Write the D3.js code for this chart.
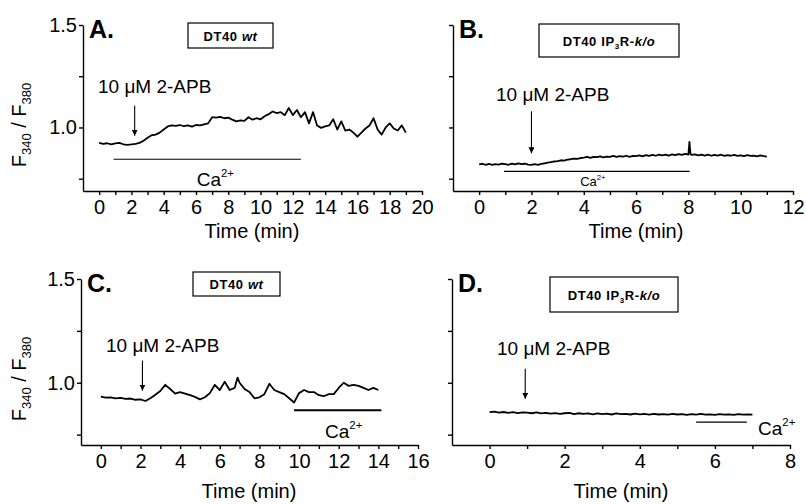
<!DOCTYPE html>
<html>
<head>
<meta charset="utf-8">
<script src="https://cdn.jsdelivr.net/npm/d3@7"></script>
<style>
  body { margin: 0; background: #fff; }
  svg { font-family: "Liberation Sans", Arial, sans-serif; }
  .axis path, .axis line { stroke: #000; stroke-width: 1.4; }
  .axis text { font-size: 20px; fill: #000; }
</style>
</head>
<body>
<svg id="fig" width="806" height="504"></svg>
<script>
// ---- data ----
const tA = [0,0.25,0.5,0.75,1,1.25,1.5,1.75,2,2.25,2.5,2.75,3,3.25,3.5,3.75,4,4.25,4.5,4.75,5,5.25,5.5,5.75,6,6.25,6.5,6.75,7,7.25,7.5,7.75,8,8.25,8.5,8.75,9,9.25,9.5,9.75,10,10.25,10.5,10.75,11,11.25,11.5,11.75,12,12.25,12.5,12.75,13,13.25,13.5,13.75,14,14.25,14.5,14.75,15,15.25,15.5,15.75,16,16.25,16.5,16.75,17,17.25,17.5,17.75,18,18.25,18.5,18.75,19];
const vA = [0.925,0.92,0.923,0.918,0.922,0.925,0.918,0.915,0.917,0.92,0.925,0.935,0.95,0.962,0.965,0.975,0.99,1.005,1.01,1.008,1.012,1.006,1.01,1.004,1.012,1.01,1.015,1.02,1.05,1.048,1.052,1.045,1.048,1.038,1.03,1.035,1.032,1.05,1.038,1.045,1.04,1.055,1.065,1.078,1.07,1.075,1.06,1.095,1.06,1.085,1.05,1.075,1.02,1.075,1.01,0.998,1.005,1.01,1.04,0.99,1.03,0.985,0.99,0.975,0.955,0.975,0.995,1.01,1.045,0.99,0.965,1.0,1.02,0.995,0.985,1.01,0.975];

const tB = [0,0.125,0.25,0.375,0.5,0.625,0.75,0.875,
  1,1.125,1.25,1.375,1.5,1.625,1.75,1.875,
  2,2.125,2.25,2.375,2.5,2.625,2.75,2.875,
  3,3.125,3.25,3.375,3.5,3.625,3.75,3.875,
  4,4.125,4.25,4.375,4.5,4.625,4.75,4.875,
  5,5.125,5.25,5.375,5.5,5.625,5.75,5.875,
  6,6.125,6.25,6.375,6.5,6.625,6.75,6.875,
  7,7.125,7.25,7.375,7.5,7.625,7.75,7.875,
  8,8.04,8.08,8.125,8.25,8.375,8.5,8.625,8.75,8.875,
  9,9.125,9.25,9.375,9.5,9.625,9.75,9.875,
  10,10.125,10.25,10.375,10.5,10.625,10.75,10.875,
  11];
const vB = [0.820,0.823,0.818,0.822,0.817,0.821,0.819,0.823,
  0.821,0.818,0.824,0.820,0.825,0.821,0.823,0.819,
  0.817,0.821,0.818,0.822,0.825,0.828,0.831,0.834,
  0.836,0.840,0.838,0.843,0.845,0.848,0.847,0.851,
  0.853,0.856,0.852,0.857,0.855,0.859,0.854,0.858,
  0.857,0.861,0.856,0.860,0.858,0.862,0.857,0.861,
  0.860,0.864,0.859,0.865,0.861,0.866,0.862,0.867,
  0.864,0.868,0.863,0.869,0.865,0.870,0.866,0.871,
  0.868,0.930,0.870,0.866,0.869,0.864,0.868,0.863,0.867,0.862,
  0.866,0.863,0.867,0.861,0.865,0.862,0.866,0.861,
  0.864,0.860,0.865,0.861,0.863,0.859,0.864,0.860,
  0.858];

const tC = [0,0.25,0.5,0.75,1,1.25,1.5,1.75,2,2.25,2.5,2.75,3,3.25,3.5,3.75,4,4.25,4.5,4.75,5,5.25,5.5,5.75,6,6.25,6.5,6.75,6.9,7,7.25,7.5,7.75,8,8.25,8.5,8.75,9,9.25,9.5,9.75,10,10.25,10.5,10.75,11,11.25,11.5,11.75,12,12.25,12.5,12.75,13,13.25,13.5,13.75,14];
const vC = [0.933,0.928,0.93,0.925,0.927,0.922,0.924,0.918,0.92,0.912,0.925,0.942,0.96,0.99,0.97,0.948,0.955,0.948,0.94,0.932,0.92,0.93,0.95,0.99,0.965,1.005,0.965,0.975,1.025,1.0,0.97,0.955,0.925,0.93,0.945,0.995,0.965,0.955,0.945,0.925,0.905,0.95,0.965,0.955,0.955,0.94,0.935,0.945,0.945,0.975,1.0,0.985,0.99,0.985,0.975,0.965,0.975,0.965];

const tD = [0,0.125,0.25,0.375,0.5,0.625,0.75,0.875,
  1,1.125,1.25,1.375,1.5,1.625,1.75,1.875,
  2,2.125,2.25,2.375,2.5,2.625,2.75,2.875,
  3,3.125,3.25,3.375,3.5,3.625,3.75,3.875,
  4,4.125,4.25,4.375,4.5,4.625,4.75,4.875,
  5,5.125,5.25,5.375,5.5,5.625,5.75,5.875,
  6,6.125,6.25,6.375,6.5,6.625,6.75,6.875,
  7];
const vD = [0.858,0.861,0.856,0.859,0.855,0.858,0.854,0.857,
  0.856,0.853,0.857,0.852,0.855,0.851,0.854,0.850,
  0.853,0.855,0.849,0.853,0.850,0.852,0.848,0.852,
  0.849,0.851,0.847,0.852,0.849,0.850,0.847,0.851,
  0.848,0.850,0.846,0.850,0.847,0.849,0.846,0.850,
  0.847,0.849,0.845,0.849,0.846,0.850,0.846,0.848,
  0.845,0.849,0.846,0.848,0.845,0.849,0.846,0.848,
  0.846];

const xMax = [20, 12, 16, 8];
const yTicks = [0.75, 1.0, 1.25, 1.5];
const yLabels = [1.0, 1.5];
// Ca2+ bars: [start, end] in min
const caBars = [[0.9, 12.5], [0.95, 8.05], [9.75, 14.15], [5.5, 6.85]];
// 2-APB addition time (min)
const apbTime = [2.2, 2.0, 2.1, 0.95];

// ---- layout ----
const panels = [
  { id: "A", t: tA, v: vA, xr: [83, 422], yr: [191, 25], yDom: [0.69, 1.5], yLab: true,
    box: { x: 188, y: 23, w: 85, h: 25, ko: false },
    caY: 0.845, caLab: { t: 7.2, y: 186, size: 19, anchor: "middle" }, caW: 1.2,
    arrow: { tip: 0.96, len: 30 }, apbLab: { x: 98, y: 93 }, xTitleX: 252, xTitleY: 238 },
  { id: "B", t: tB, v: vB, xr: [453, 793], yr: [191, 25], yDom: [0.69, 1.5], yLab: false,
    box: { x: 539, y: 24, w: 140, h: 33, ko: true },
    caY: 0.786, caLab: { t: 4.35, y: 186, size: 13, anchor: "middle" }, caW: 1.2,
    arrow: { tip: 0.874, len: 42 }, apbLab: { x: 496, y: 101 }, xTitleX: 636, xTitleY: 238 },
  { id: "C", t: tC, v: vC, xr: [81, 418], yr: [445, 279], yDom: [0.7, 1.5], yLab: true,
    box: { x: 193, y: 272, w: 87, h: 24, ko: false },
    caY: 0.867, caLab: { t: 12.25, y: 438, size: 19, anchor: "middle" }, caW: 2,
    arrow: { tip: 0.962, len: 30 }, apbLab: { x: 106, y: 352 }, xTitleX: 249, xTitleY: 498 },
  { id: "D", t: tD, v: vD, xr: [452, 790], yr: [445, 279], yDom: [0.7, 1.5], yLab: false,
    box: { x: 550, y: 277, w: 128, h: 35, ko: true },
    caY: 0.81, caLab: { t: 7.15, y: 435, size: 19, anchor: "start" }, caW: 1.2,
    arrow: { tip: 0.923, len: 30 }, apbLab: { x: 497, y: 355 }, xTitleX: 621, xTitleY: 498 }
];

const svg = d3.select("#fig");
const defs = svg.append("defs");
defs.append("marker")
  .attr("id", "arrowhead")
  .attr("viewBox", "0 0 10 10")
  .attr("refX", 10).attr("refY", 5)
  .attr("markerWidth", 6).attr("markerHeight", 6)
  .attr("markerUnits", "userSpaceOnUse")
  .attr("orient", "auto")
  .append("path")
  .attr("d", "M0,0 L10,5 L0,10 Z")
  .attr("fill", "#000");

panels.forEach((p, i) => {
  const x = d3.scaleLinear().domain([-1, xMax[i]]).range(p.xr);
  const y = d3.scaleLinear().domain(p.yDom).range(p.yr);
  const g = svg.append("g").attr("class", "panel-" + p.id);

  // x axis with minor ticks every 1 min, labels every 2
  g.append("g")
    .attr("class", "axis x-axis")
    .attr("transform", `translate(0,${p.yr[0]})`)
    .call(d3.axisBottom(x)
      .tickValues(d3.range(0, xMax[i] + 1))
      .tickSize(4).tickSizeOuter(0).tickPadding(5)
      .tickFormat(d => d % 2 === 0 ? d : ""));

  // y axis
  g.append("g")
    .attr("class", "axis y-axis")
    .attr("transform", `translate(${p.xr[0]},0)`)
    .call(d3.axisLeft(y)
      .tickValues(yTicks)
      .tickSize(4).tickSizeOuter(0).tickPadding(2)
      .tickFormat(d => p.yLab && yLabels.includes(d) ? d.toFixed(1) : ""));

  // trace
  const line = d3.line().x(d => x(d[0])).y(d => y(d[1]));
  g.append("path")
    .datum(d3.zip(p.t, p.v))
    .attr("d", line)
    .attr("fill", "none")
    .attr("stroke", "#000")
    .attr("stroke-width", 1.8)
    .attr("stroke-linejoin", "round");

  // Ca2+ bar + label
  g.append("line")
    .attr("x1", x(caBars[i][0])).attr("x2", x(caBars[i][1]))
    .attr("y1", y(p.caY)).attr("y2", y(p.caY))
    .attr("stroke", "#000").attr("stroke-width", p.caW);
  const ca = g.append("text")
    .attr("x", x(p.caLab.t)).attr("y", p.caLab.y)
    .attr("text-anchor", p.caLab.anchor)
    .style("font-size", p.caLab.size + "px");
  ca.append("tspan").text("Ca");
  ca.append("tspan").attr("dy", -p.caLab.size * 0.45)
    .style("font-size", (p.caLab.size * 0.6) + "px").text("2+");

  // 2-APB arrow + label
  const tipY = y(p.arrow.tip);
  g.append("line")
    .attr("x1", x(apbTime[i])).attr("x2", x(apbTime[i]))
    .attr("y1", tipY - p.arrow.len).attr("y2", tipY)
    .attr("stroke", "#000").attr("stroke-width", 1.1)
    .attr("marker-end", "url(#arrowhead)");
  g.append("text")
    .attr("x", p.apbLab.x).attr("y", p.apbLab.y)
    .style("font-size", "19px")
    .text("10 \u03bcM 2-APB");

  // panel letter
  g.append("text")
    .attr("x", p.xr[0] + 6).attr("y", p.yr[1] + 13)
    .style("font-size", "25px").style("font-weight", "bold")
    .text(p.id + ".");

  // cell-line box
  g.append("rect")
    .attr("x", p.box.x).attr("y", p.box.y)
    .attr("width", p.box.w).attr("height", p.box.h)
    .attr("fill", "none").attr("stroke", "#000").attr("stroke-width", 1.2);
  const bt = g.append("text")
    .attr("x", p.box.x + p.box.w / 2)
    .attr("y", p.box.y + p.box.h / 2 + 5)
    .attr("text-anchor", "middle")
    .style("font-size", "13px").style("font-weight", "bold")
    .style("letter-spacing", "0.6px");
  if (p.box.ko) {
    bt.append("tspan").text("DT40 IP");
    bt.append("tspan").attr("dy", 3).style("font-size", "8px").text("3");
    bt.append("tspan").attr("dy", -3).text("R-");
    bt.append("tspan").style("font-style", "italic").text("k/o");
  } else {
    bt.append("tspan").text("DT40 ");
    bt.append("tspan").style("font-style", "italic").text("wt");
  }

  // x title
  g.append("text")
    .attr("x", p.xTitleX).attr("y", p.xTitleY)
    .attr("text-anchor", "middle")
    .style("font-size", "20px")
    .text("Time (min)");

  // y title
  if (p.yLab) {
    const cy = (p.yr[0] + p.yr[1]) / 2 + 17;
    const yt = g.append("text")
      .attr("transform", `translate(26,${cy}) rotate(-90)`)
      .attr("text-anchor", "middle")
      .style("font-size", "20px");
    yt.append("tspan").text("F");
    yt.append("tspan").attr("dy", 5).style("font-size", "13px").text("340");
    yt.append("tspan").attr("dy", -5).text(" / F");
    yt.append("tspan").attr("dy", 5).style("font-size", "13px").text("380");
  }
});
</script>
</body>
</html>
